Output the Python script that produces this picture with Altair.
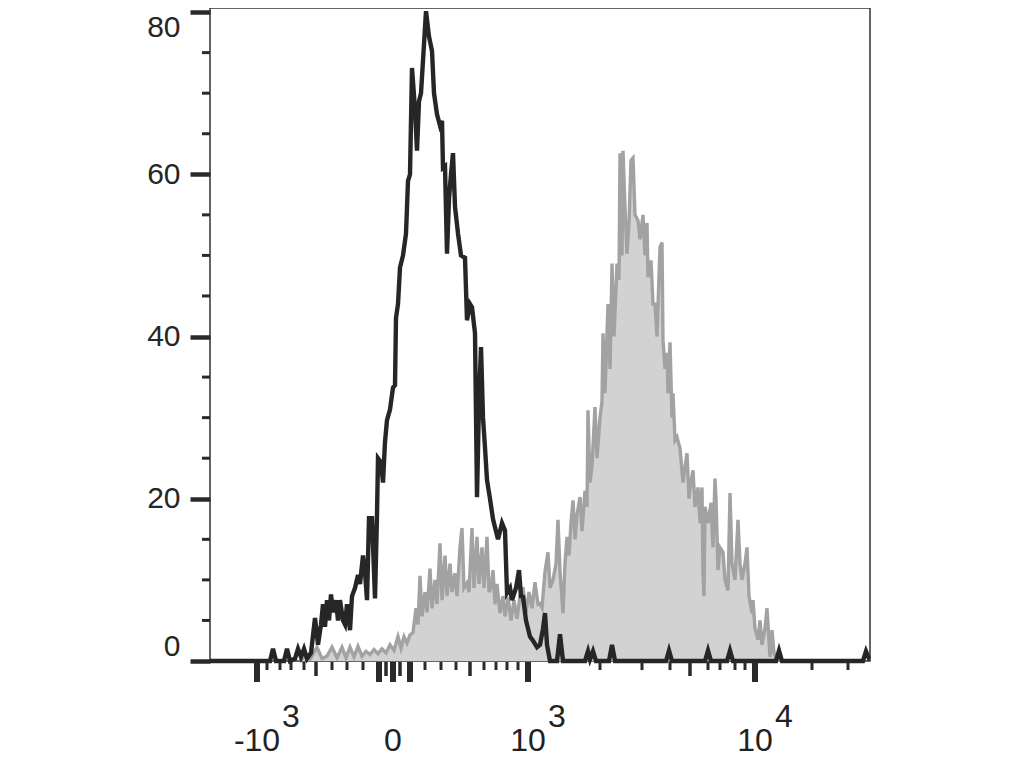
import altair as alt
import pandas as pd

# x values are display channels (0 .. 264 across the plot), y values are cell counts

# Black (control) histogram
black_x = [0, 23.2, 24, 25.2, 26.4, 29.6, 30.8, 32, 34, 35.2, 36.4, 37.6, 38.8, 40.4, 42, 43.2,
           44.4, 45.2, 46, 46.8, 47.6, 48.4, 49.2, 50.4, 51.2, 52, 53.2, 54, 54.8, 56, 56.8, 58,
           59.2, 60, 61.2, 62, 62.8, 63.6, 64.8, 66, 66.8, 67.2, 68.4, 69.2, 70, 70.8, 72, 73.2,
           74, 74.4, 75.2, 76, 77.2, 78.4, 79.2, 80, 80.8, 82, 82.8, 83.6, 84.4, 85.2, 86.4, 87.6,
           88.8, 89.6, 90.8, 92, 92.8, 93.2, 94, 94.8, 95.6, 96.4, 97.2, 98, 99.2, 100.4, 102,
           102.8, 104, 104.8, 106, 106.8, 107.6, 108.4, 109.2, 110, 110.8, 112, 113.2, 114, 115.2,
           116.8, 118, 118.8, 120, 120.8, 122.4, 123.6, 124.4, 125.2, 126.4, 128, 129.2, 130.8,
           132, 133.2, 134, 134.8, 136, 138.8, 140, 141.2, 150, 151.2, 152, 153.2, 154.4, 159.6,
           160.8, 162, 182.4, 183.6, 184.8, 198, 199.2, 200.4, 206.8, 208, 209.2, 226.4, 227.6,
           228.8, 261.2, 262.4, 263.6, 264]
black_y = [0, 0, 0, 1.5, 0, 0, 1.5, 0, 0.3, 1.5, 0.5, 1.5, 0.3, 1.0, 5.3, 2,
           4.5, 7.0, 4.2, 7.5, 5, 8.2, 6, 7.5, 5, 7.5, 5, 4.5, 7.0, 3.8, 8, 9,
           10.6, 9.5, 13, 11, 7.5, 17.6, 17.6, 7.7, 18, 25, 24.5, 22, 27, 29.7, 31, 33.7,
           34, 42.3, 44, 48.5, 50, 52.7, 59.2, 60, 73.1, 68, 62.9, 69, 70, 74, 80.1, 77,
           75.2, 70, 67.4, 66, 66.6, 60.8, 61, 50.2, 57, 60, 62.6, 56, 52.7, 50, 49.7,
           42, 44, 43.6, 40.4, 20.2, 32, 38.7, 30, 26.3, 22.3, 20, 17.5, 16.5, 15,
           17, 16.1, 8.4, 9, 7.5, 9, 11.2, 8, 7.9, 5, 3, 2.5, 1.7,
           2, 4, 5.9, 2, 0, 0, 3.3, 0, 0, 1.2, 0.2, 1.2, 0, 0,
           2, 0, 0, 1.3, 0, 0, 1.3, 0, 0, 1.3, 0, 0, 1.3,
           0, 0, 1.2, 0.3, 0.3]

# Grey (stained) histogram
gray_x = [36, 38, 40, 42.8, 44.8, 46.8, 48.8, 50.8, 52.8, 54.4, 56, 57.6, 59.2, 60.8, 62.4, 64,
          65.6, 67.2, 68.8, 70.4, 72, 73.6, 75.2, 76.4, 77.6, 78.8, 80, 81.2, 82.4, 83.2, 84,
          84.8, 86, 86.8, 88, 88.8, 90, 90.8, 92, 92.8, 94, 94.8, 96, 96.8, 98, 98.8, 100, 100.8,
          101.6, 102.8, 103.6, 104.8, 105.6, 106.8, 107.6, 108.8, 109.6, 110.8, 111.6, 112.4,
          113.2, 114, 114.8, 116, 117.2, 118, 119.2, 120.4, 121.6, 122.8, 124, 125.2, 126.4,
          127.6, 128.8, 130, 131.2, 132, 132.8, 134, 135.2, 136, 137.2, 138.4, 139.2, 140, 141.2,
          142, 142.8, 143.6, 144.4, 145.2, 146, 146.8, 148, 148.8, 150, 150.8, 151.2, 152, 152.8,
          154, 154.8, 156, 156.8, 157.2, 158, 159.2, 160, 160.8, 161.6, 162.8, 163.6, 164, 164.8,
          165.2, 166, 166.8, 167.6, 168.4, 169.2, 170, 171.2, 172, 173.2, 174, 174.8, 175.2,
          176.4, 177.2, 178, 178.8, 180, 180.8, 181.2, 182, 182.8, 183.2, 184, 184.8, 185.2, 186,
          186.8, 188, 189.2, 190, 190.8, 191.6, 192, 193.2, 194, 195.2, 196, 196.8, 197.2, 197.6,
          198, 199.2, 200.4, 201.2, 202, 202.4, 203.2, 204, 205.2, 206, 207.2, 208, 208.8, 210,
          211.2, 212, 212.8, 214, 214.8, 215.6, 216.8, 217.2, 218, 219.2, 220, 220.8, 222, 222.8,
          224, 224.8, 225.6, 226.4, 228]
gray_y = [0, 0.6, 0.2, 1.7, 0.3, 0.6, 1.7, 0.4, 1.7, 0.4, 1.7, 0.5, 1.8, 0.6, 1.2, 0.8,
          1.4, 0.9, 1.5, 1.0, 2.0, 1.3, 3.0, 1.6, 3.0, 2.2, 3.2, 3.5, 6.5, 4.5, 10.5,
          5.5, 8.5, 6.0, 11.4, 6.5, 10, 7.0, 14.5, 7.5, 13, 8, 12, 8.5, 10.8, 8.0, 14, 16.4,
          9, 9.6, 8.5, 16.4, 9, 15.3, 9.5, 14, 9, 15.3, 8.5, 9.1,
          11.2, 7, 9.5, 5.9, 8, 5.5, 7.9, 5, 7.5, 5.2, 8, 9.1, 6,
          8.5, 6.5, 9.7, 7, 7.1, 6.6, 11, 13.4, 9, 10, 12, 17.4, 11, 5.9,
          12, 15.3, 13, 17, 19.8, 15, 18, 20.2, 16, 21, 19, 30.9, 22, 24,
          31.3, 25, 30, 32, 40.4, 33, 44, 36, 49, 40, 49, 47, 62.6, 50,
          62.9, 55.9, 50.2, 54, 61.7, 62, 55, 54.3, 52, 55, 50, 54, 47.3,
          49.4, 44, 44, 40, 51, 51.6, 39.5, 36, 38, 33, 39.3, 30, 33, 27.2,
          27.6, 26.2, 22, 23.9, 25.6, 20, 21.4, 23.5, 19, 21.4, 17, 21.4, 10.8, 8,
          19, 17, 19.5, 14, 22.5, 20, 11.2, 14, 13.4, 10, 8.7, 20.7, 12, 10,
          17.4, 12, 10, 12, 14, 8, 5.9, 7.5, 4, 2.6, 5, 2, 4, 6.5,
          0.5, 3.8, 1, 0.3, 0]

# Axis ticks and labels
y_major = [0, 20, 40, 60, 80]
y_minor = [5, 10, 15, 25, 30, 35, 45, 50, 55, 65, 70, 75]
x_major_ticks = [18.8, 67.6, 73.2, 80.0, 127.2, 218.0]
x_mid_ticks = [42.4, 70.4, 76.0, 104.0, 192.0]
x_minor_ticks = [22.8, 28.0, 32.4, 37.6, 48.8, 54.8, 61.2, 86.0, 92.4, 98.4, 109.6, 114.4,
                 118.8, 123.2, 156.0, 172.8, 184.0, 199.2, 204.0, 210.0, 214.0, 240.8, 255.2]
x_label_pos = [18.8, 73.2, 127.2, 218.0]
x_label_base = ["-10", "0", "10", "10"]
x_label_sup = ["3", "", "3", "4"]

W, H = 660, 653
INK = "#2a2a2a"
FONT = "'Liberation Sans', Arial, sans-serif"

black_df = pd.DataFrame({"ch": black_x, "count": black_y})
gray_df = pd.DataFrame({"ch": gray_x, "count": gray_y})
ymin_df = pd.DataFrame({"v": y_minor})
xmaj_df = pd.DataFrame({"ch": x_major_ticks})
xmid_df = pd.DataFrame({"ch": x_mid_ticks})
xmin_df = pd.DataFrame({"ch": x_minor_ticks})
lab_df = pd.DataFrame({"ch": x_label_pos, "base": x_label_base, "sup": x_label_sup})

xscale = alt.Scale(domain=[0, 264], nice=False, zero=False)
yscale = alt.Scale(domain=[0, 80.5], nice=False, zero=False)
yaxis = alt.Axis(values=y_major, tickSize=20, tickWidth=4.5, tickColor=INK, domain=False,
                 grid=False, labelFont=FONT, labelFontSize=30, labelColor="#262626",
                 labelPadding=10, labelFlush=False, title=None,
                 labelBaseline={"condition": [
                     {"test": "datum.value >= 80", "value": "top"},
                     {"test": "datum.value <= 0", "value": "bottom"}],
                     "value": "middle"})

X = lambda: alt.X("ch:Q", scale=xscale, axis=None)
Y = lambda f="count": alt.Y(f"{f}:Q", scale=yscale, axis=yaxis)

gray_area = alt.Chart(gray_df).mark_area(color="#d2d2d2", interpolate="linear").encode(x=X(), y=Y())
gray_line = alt.Chart(gray_df).mark_line(color="#a2a2a4", strokeWidth=3.4).encode(x=X(), y=Y())
black_line = alt.Chart(black_df).mark_line(color="#262626", strokeWidth=4.4).encode(x=X(), y=Y())

y_minor_ticks = alt.Chart(ymin_df).mark_rule(color=INK, strokeWidth=3).encode(
    y=Y("v"), x=alt.value(-8), x2=alt.value(0))

def xticks(df, length, width):
    return alt.Chart(df).mark_rule(color=INK, strokeWidth=width).encode(
        x=X(), y=alt.value(H + 1), y2=alt.value(H + 1 + length))

base_labels = alt.Chart(lab_df).mark_text(
    font=FONT, fontSize=32, color="#222222", align="center",
    baseline="alphabetic").encode(x=X(), y=alt.value(H + 90), text="base:N")

sup_neg = alt.Chart(lab_df).transform_filter(alt.datum.base == "-10").mark_text(
    font=FONT, fontSize=32, color="#222222", align="left",
    baseline="alphabetic", dx=25).encode(x=X(), y=alt.value(H + 66), text="sup:N")
sup_pos = alt.Chart(lab_df).transform_filter(alt.datum.base == "10").mark_text(
    font=FONT, fontSize=32, color="#222222", align="left",
    baseline="alphabetic", dx=20).encode(x=X(), y=alt.value(H + 66), text="sup:N")

chart = alt.layer(
    gray_area, gray_line, black_line, y_minor_ticks,
    xticks(xmaj_df, 20, 6), xticks(xmid_df, 14, 3.5), xticks(xmin_df, 8, 3),
    base_labels, sup_neg, sup_pos,
).properties(
    width=W, height=H,
    padding={"left": 202, "top": 0, "right": 142, "bottom": 104},
    autosize=alt.AutoSizeParams(type="none"),
    background="white",
).configure_view(stroke="#333333", strokeWidth=1.5)

chart.save("out.html", embed_options={"renderer": "svg", "actions": False})
